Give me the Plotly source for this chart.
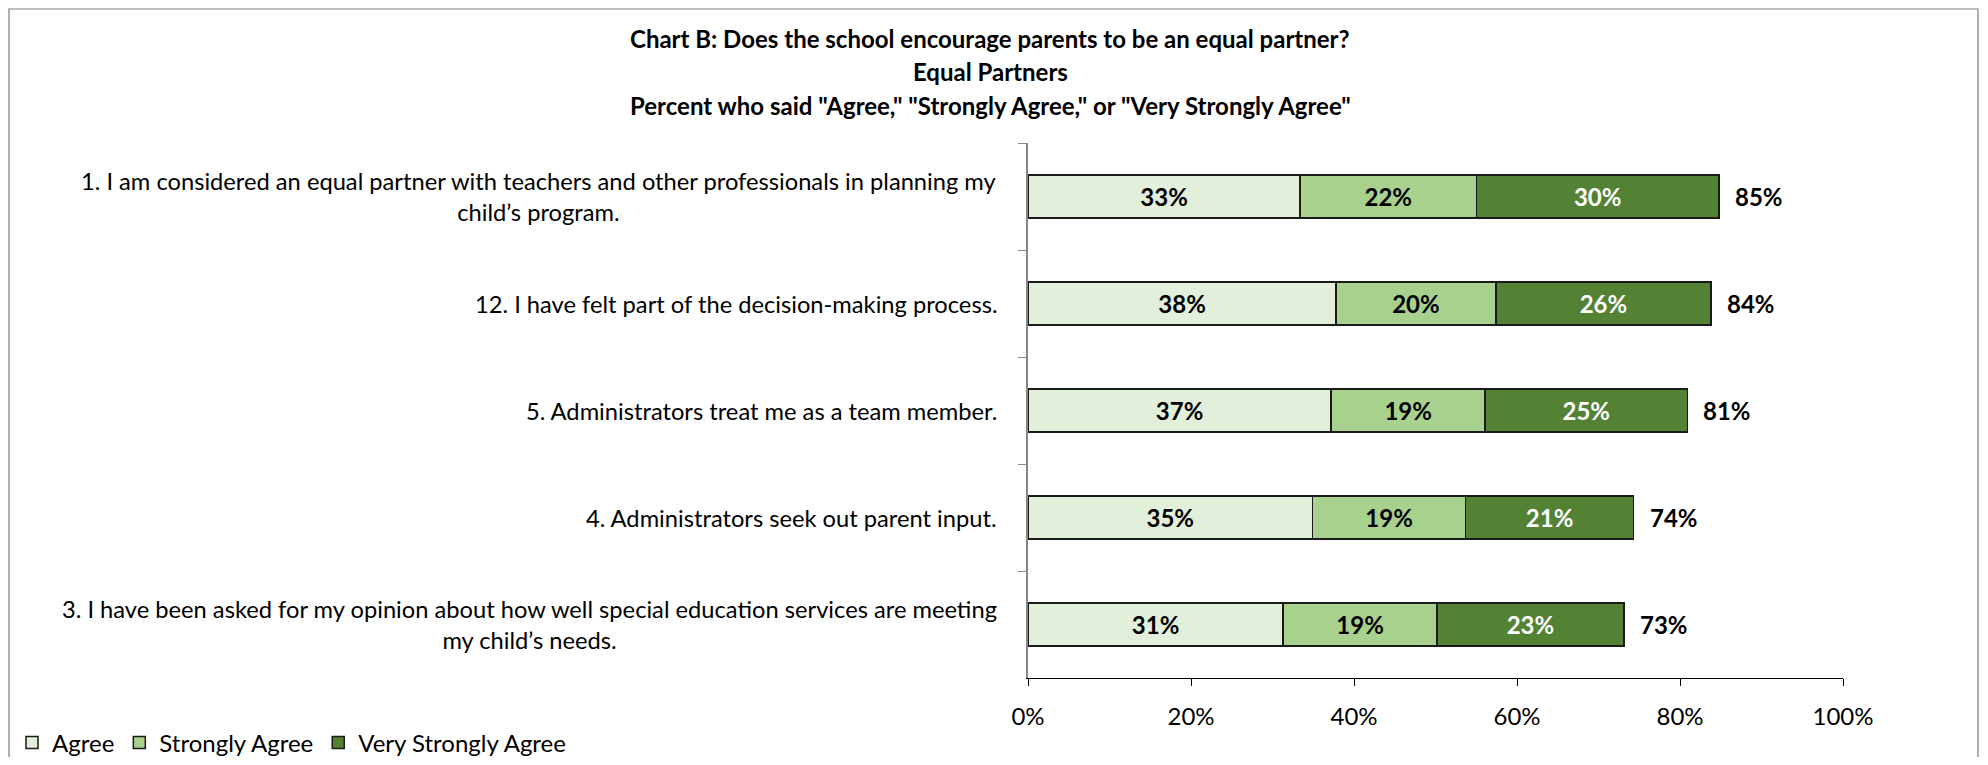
import plotly.graph_objects as go

categories = [
    "1. I am considered an equal partner with teachers and other professionals in planning my<br>child\u2019s program.",
    "12. I have felt part of the decision-making process.",
    "5. Administrators treat me as a team member.",
    "4. Administrators seek out parent input.",
    "3. I have been asked for my opinion about how well special education services are meeting<br>my child\u2019s needs.",
]
series_names = ["Agree", "Strongly Agree", "Very Strongly Agree"]
agree = [33.4, 37.8, 37.2, 34.9, 31.3]
strongly_agree = [21.6, 19.6, 18.9, 18.8, 18.9]
very_strongly_agree = [29.8, 26.4, 24.8, 20.6, 22.9]
totals = [85, 84, 81, 74, 73]
x_ticks = [0, 20, 40, 60, 80, 100]
title_lines = [
    "Chart B: Does the school encourage parents to be an equal partner?",
    "Equal Partners",
    "Percent who said \"Agree,\" \"Strongly Agree,\" or \"Very Strongly Agree\"",
]

colors = ["#E2EFDA", "#A9D18E", "#548235"]
text_colors = ["#000000", "#000000", "#FFFFFF"]
FONT = "Lato"
FS = 24

O = 8  # page body margin
W, H = 1988 - 2 * O, 765 - 2 * O
# page coordinates of the plot area, converted to figure coordinates
L, R, T, B = 1028 - O, 1843 - O, 143 - O, 678 - O
pw, ph = R - L, B - T


def px2x(px):
    return (px - O - L) / pw


def px2y(py):
    return (B - (py - O)) / ph


fig = go.Figure()
for name, vals, col, tcol in zip(series_names, [agree, strongly_agree, very_strongly_agree], colors, text_colors):
    fig.add_trace(go.Bar(
        name=name, y=categories, x=vals, orientation="h",
        marker=dict(color=col, line=dict(color="#1a1a1a", width=1.5)),
        text=[f"{round(v)}%" for v in vals],
        textposition="inside", insidetextanchor="middle", textangle=0,
        textfont=dict(family=FONT, size=FS, color=tcol, weight="bold"),
        hoverinfo="skip",
    ))

annotations = []
for c, tot, a, s, v in zip(categories, totals, agree, strongly_agree, very_strongly_agree):
    annotations.append(dict(
        x=a + s + v, y=c, xref="x", yref="y", text=f"{tot}%", showarrow=False,
        xanchor="left", xshift=14, font=dict(family=FONT, size=FS, color="#000", weight="bold"),
    ))
for c in categories:
    annotations.append(dict(
        x=0, y=c, xref="paper", yref="y", text=c, showarrow=False,
        xanchor="right", align="center", xshift=-29,
        font=dict(family=FONT, size=23.7, color="#000"),
    ))
for tl, ypx in zip(title_lines, [38, 72, 105]):
    annotations.append(dict(
        x=px2x(990), y=px2y(ypx), xref="paper", yref="paper", text=tl, showarrow=False,
        xanchor="center", yanchor="middle",
        font=dict(family=FONT, size=FS, color="#000", weight="bold"),
    ))

fig.update_layout(
    width=W, height=H, autosize=False,
    margin=dict(l=L, r=W - R, t=T, b=H - B, pad=0, autoexpand=False),
    barmode="stack", bargap=0.598,
    plot_bgcolor="white", paper_bgcolor="white",
    font=dict(family=FONT, size=FS, color="#000"),
    showlegend=True,
    legend=dict(orientation="h", x=px2x(12), xanchor="left", y=px2y(743), yanchor="middle",
                font=dict(family=FONT, size=FS, color="#000"), traceorder="normal",
                itemwidth=30, bgcolor="rgba(0,0,0,0)"),
    xaxis=dict(range=[0, 100], tickvals=x_ticks, ticktext=[f"{t}%" for t in x_ticks],
               showgrid=False, zeroline=False, showline=True, linecolor="#000", linewidth=1,
               ticks="outside", ticklen=7, tickcolor="#000", ticklabelstandoff=10,
               tickfont=dict(family=FONT, size=FS, color="#000")),
    yaxis=dict(categoryorder="array", categoryarray=categories, autorange="reversed",
               showticklabels=False, showgrid=False, zeroline=False, showline=True,
               linecolor="#868686", linewidth=1.5, ticks="outside", tickson="boundaries",
               ticklen=8, tickcolor="#868686"),
    annotations=annotations,
    shapes=[dict(type="rect", xref="paper", yref="paper",
                 x0=px2x(O + 1), x1=px2x(1978), y0=px2y(800), y1=px2y(O + 1),
                 line=dict(color="#7f7f7f", width=1.2), fillcolor="rgba(0,0,0,0)", layer="below")],
)

fig.write_html("out.html")
